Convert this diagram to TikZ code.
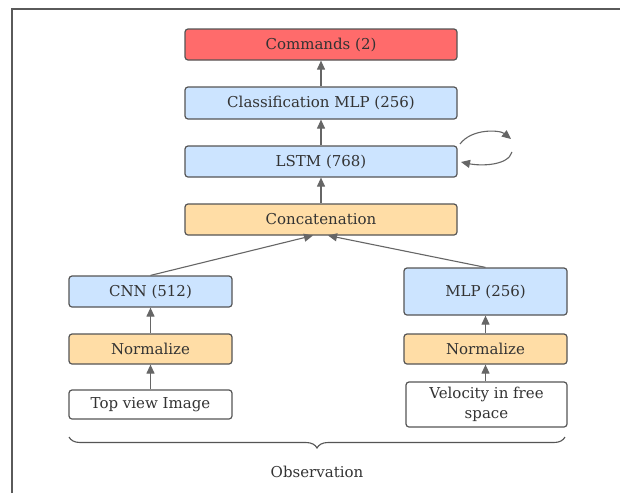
\documentclass[tikz,border=0pt]{standalone}
\usepackage{fontspec}
\setmainfont{DejaVu Serif}
\usetikzlibrary{arrows.meta,decorations.pathreplacing}
\definecolor{txt}{HTML}{333333}
\definecolor{edge}{HTML}{555555}
\definecolor{frm}{HTML}{5A5A5A}
\definecolor{arr}{HTML}{666666}
\definecolor{redf}{HTML}{FF6B6B}
\definecolor{bluef}{HTML}{CCE4FF}
\definecolor{orangef}{HTML}{FFDDA6}
\tikzset{
  blk/.style={draw=edge, line width=1.2pt, rounded corners=3pt, text=txt, font=\fontsize{15}{19.5}\selectfont, inner sep=0pt, align=center},
  conn/.style={draw=arr, line width=1.1pt, -{Triangle[length=9pt,width=8pt]}},
}
\begin{document}
\begin{tikzpicture}[x=1pt,y=-1pt]
\useasboundingbox[fill=white] (0,0) rectangle (620,493);
\draw[frm, line width=1.4pt] (12,493) -- (12,9) -- (620,9);
% top column
\node[blk, fill=redf, minimum width=272pt, minimum height=31pt] (cmd) at (321,44.5) {Commands (2)};
\node[blk, fill=bluef, minimum width=272pt, minimum height=32pt] (cls) at (321,103) {Classification MLP (256)};
\node[blk, fill=bluef, minimum width=272pt, minimum height=31pt] (lstm) at (321,161.5) {LSTM (768)};
\node[blk, fill=orangef, minimum width=272pt, minimum height=31pt] (cat) at (321,219.5) {Concatenation};
% left column
\node[blk, fill=bluef, minimum width=163pt, minimum height=31pt] (cnn) at (150.5,291.5) {CNN (512)};
\node[blk, fill=orangef, minimum width=163pt, minimum height=30pt] (normL) at (150.5,349) {Normalize};
\node[blk, fill=white, minimum width=163pt, minimum height=29pt] (img) at (150.5,404.5) {Top view Image};
% right column
\node[blk, fill=bluef, minimum width=163pt, minimum height=47pt] (mlp) at (485.5,291.5) {MLP (256)};
\node[blk, fill=orangef, minimum width=163pt, minimum height=30pt] (normR) at (485.5,349) {Normalize};
\node[blk, fill=white, minimum width=161pt, minimum height=45pt] (vel) at (486.5,404.5) {Velocity in free\\space};
% connectors
\draw[conn] (cls) -- (cmd);
\draw[conn] (lstm) -- (cls);
\draw[conn] (cat) -- (lstm);
\draw[conn] (img) -- (normL);
\draw[conn] (normL) -- (cnn);
\draw[conn] (vel.north -| normR) -- (normR);
\draw[conn] (normR) -- (mlp);
\coordinate (catL) at (313,235.5);
\coordinate (catR) at (328,235.5);
\draw[conn] (cnn.north) -- (catL);
\draw[conn] (mlp.north) -- (catR);
% recurrent loop
\coordinate (la) at (460,144);
\coordinate (lb) at (511,139);
\coordinate (lc) at (512,152);
\coordinate (ld) at (461,162);
\draw[conn] (la) .. controls (472,128) and (500,130) .. (lb);
\draw[conn] (lc) .. controls (508,166) and (480,166) .. (ld);
% brace
\draw[edge, line width=1.1pt, decorate, decoration={brace, amplitude=11pt, mirror}] (69,437) -- (565,437);
\node[text=txt, font=\fontsize{15}{19.5}\selectfont] (obs) at (317,472) {Observation};
\end{tikzpicture}
\end{document}
